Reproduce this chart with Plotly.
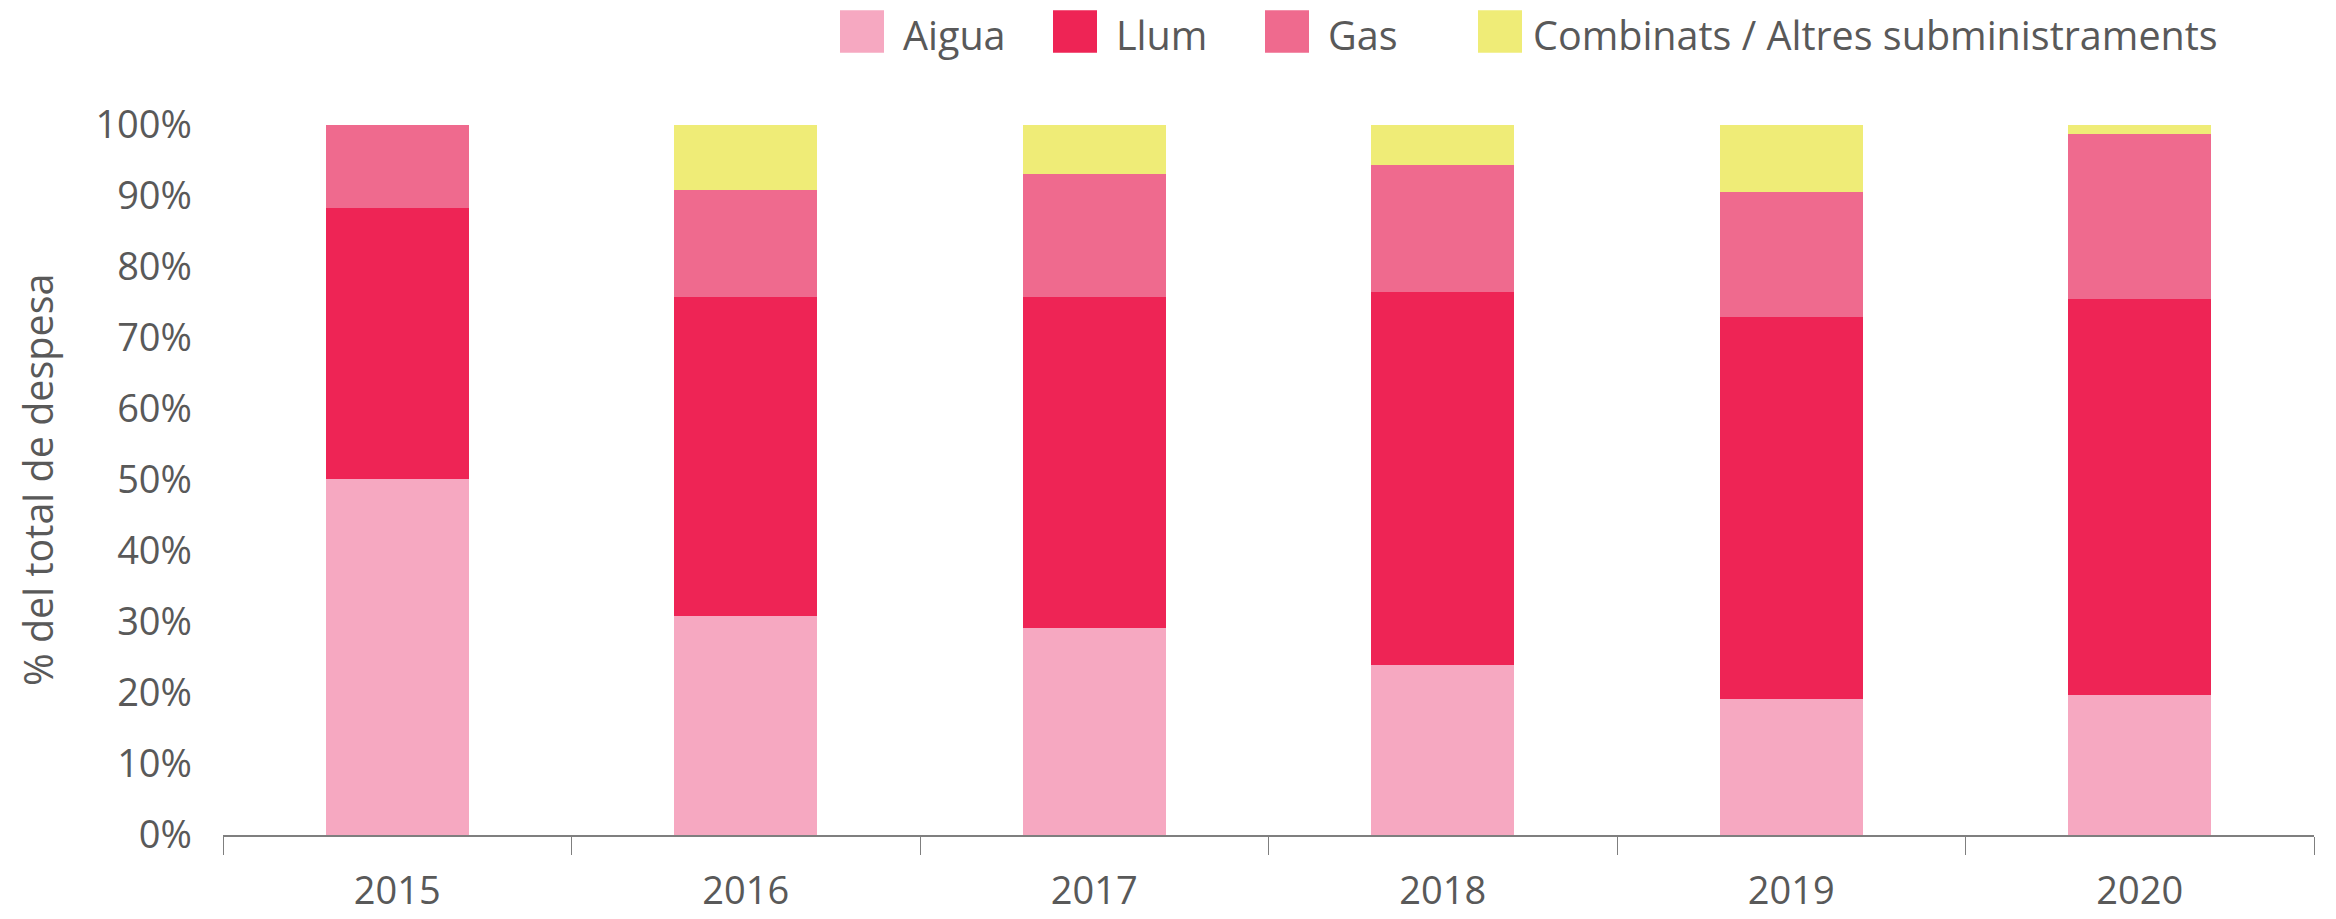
import plotly.graph_objects as go

anys = ['2015', '2016', '2017', '2018', '2019', '2020']
aigua = [50.1, 30.8, 29.2, 24.0, 19.2, 19.7]
llum = [38.2, 45.0, 46.6, 52.5, 53.7, 55.8]
gas = [11.7, 15.1, 17.3, 17.8, 17.6, 23.3]
combinats = [0.0, 9.1, 6.9, 5.7, 9.5, 1.2]

noms = ['Aigua', 'Llum', 'Gas', 'Combinats / Altres subministraments']
colors = ['#F6A8C1', '#EE2455', '#EF6A8E', '#EFEC77']
series = [aigua, llum, gas, combinats]

FONT = 'Open Sans'
GRIS = '#595959'

W, H = 2336, 919
ML, MR, MT, MB = 215, 30, 117, 84
pw = W - ML - MR
ph = H - MT - MB


def px_x(x):
    return (x - ML) / pw


def px_y(y):
    return (H - MB - y) / ph


fig = go.Figure()

for nom, vals, col in zip(noms, series, colors):
    fig.add_trace(go.Bar(
        x=anys,
        y=vals,
        name=nom,
        marker_color=col,
        marker_line_width=0,
        showlegend=False
    ))

# llegenda feta a mà (quadrats grans com a l'original)
legend_sw = [832, 1045, 1257, 1470]   # inici de cada quadrat (px)
legend_txt = [893, 1106, 1318, 1523]  # inici del text (px)
sw = 44
for lx, tx, nom, col in zip(legend_sw, legend_txt, noms, colors):
    fig.add_shape(type='rect', xref='paper', yref='paper',
                  x0=px_x(lx), x1=px_x(lx + sw),
                  y0=px_y(44), y1=px_y(1),
                  fillcolor=col, line_width=0)
    fig.add_annotation(xref='paper', yref='paper',
                       x=px_x(tx), y=px_y(26),
                       text=nom, showarrow=False,
                       xanchor='left', yanchor='middle',
                       font=dict(family=FONT, size=39.5, color=GRIS))

fig.add_annotation(xref='paper', yref='paper',
                   x=px_x(30), y=0.5,
                   text='% del total de despesa', textangle=-90,
                   showarrow=False, xanchor='center', yanchor='middle',
                   font=dict(family=FONT, size=39.5, color=GRIS))

fig.update_layout(
    barmode='stack',
    bargap=0.59,
    width=W,
    height=H,
    margin=dict(l=ML, r=MR, t=MT, b=MB),
    plot_bgcolor='white',
    paper_bgcolor='white',
    font=dict(family=FONT, size=38, color=GRIS),
    xaxis=dict(
        showline=True,
        linecolor='#7F7F7F',
        linewidth=2,
        ticks='outside',
        tickson='boundaries',
        ticklen=18,
        tickcolor='#7F7F7F',
        tickwidth=1,
        ticklabelstandoff=21,
        showgrid=False,
        tickfont=dict(family=FONT, size=38, color=GRIS)
    ),
    yaxis=dict(
        range=[0, 100],
        dtick=10,
        ticksuffix='%',
        showgrid=False,
        zeroline=False,
        showline=False,
        ticklabelstandoff=30,
        tickfont=dict(family=FONT, size=38, color=GRIS)
    )
)

fig.write_html("out.html")
